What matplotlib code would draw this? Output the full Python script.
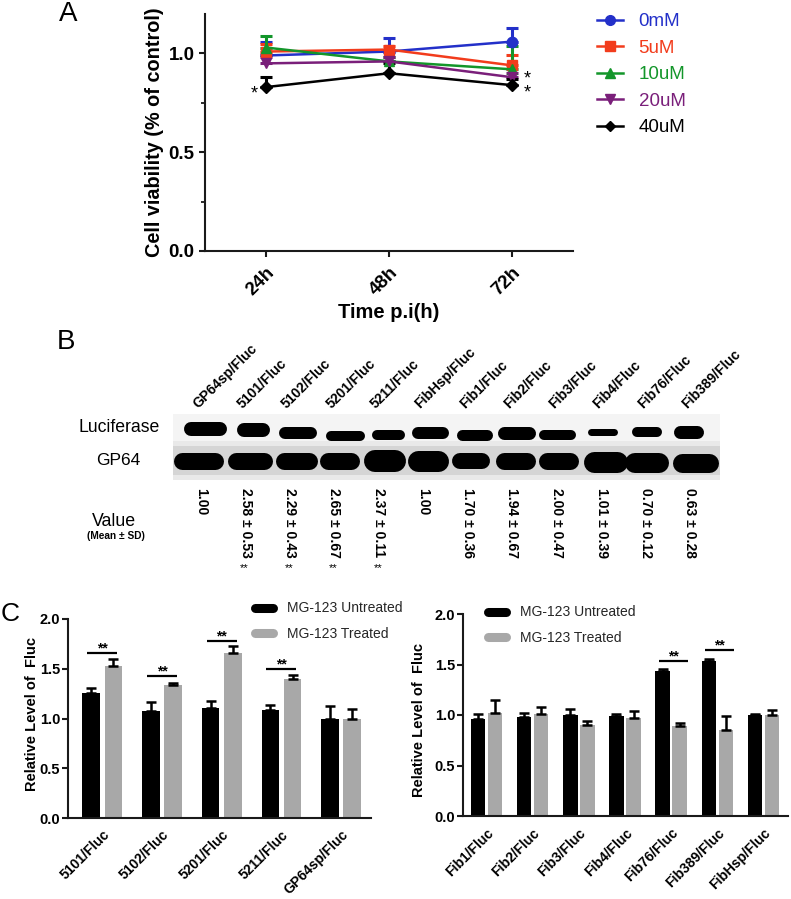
import numpy as np
import matplotlib
matplotlib.use('Agg')
import matplotlib.pyplot as plt
from matplotlib.lines import Line2D
from matplotlib.patches import Rectangle

plt.rcParams['font.family'] = ['Liberation Sans', 'DejaVu Sans']

# ---------------- data: panel A ----------------
time_labels = ['24h', '48h', '72h']
conc_labels = ['0mM', '5uM', '10uM', '20uM', '40uM']
viab_0mM = [0.99, 1.01, 1.06]
viab_5uM = [1.01, 1.02, 0.94]
viab_10uM = [1.03, 0.96, 0.92]
viab_20uM = [0.95, 0.96, 0.88]
viab_40uM = [0.83, 0.90, 0.84]
sd_0mM = [0.07, 0.07, 0.07]
sd_5uM = [0.04, 0.02, 0.05]
sd_10uM = [0.06, 0.02, 0.12]
sd_20uM = [0.03, 0.02, 0.02]
sd_40uM = [0.05, 0.05, 0.03]

# ---------------- data: panel B ----------------
blot_lanes = ['GP64sp/Fluc', '5101/Fluc', '5102/Fluc', '5201/Fluc', '5211/Fluc',
              'FibHsp/Fluc', 'Fib1/Fluc', 'Fib2/Fluc', 'Fib3/Fluc', 'Fib4/Fluc',
              'Fib76/Fluc', 'Fib389/Fluc']
value_mean = [1.00, 2.58, 2.29, 2.65, 2.37, 1.00, 1.70, 1.94, 2.00, 1.01, 0.70, 0.63]
value_sd = [None, 0.53, 0.43, 0.67, 0.11, None, 0.36, 0.67, 0.47, 0.39, 0.12, 0.28]
value_sig = ['', '**', '**', '**', '**', '', '', '', '', '', '', '']

# ---------------- data: panel C ----------------
c1_constructs = ['5101/Fluc', '5102/Fluc', '5201/Fluc', '5211/Fluc', 'GP64sp/Fluc']
c1_untreated = [1.26, 1.08, 1.11, 1.09, 1.00]
c1_untreated_sd = [0.05, 0.09, 0.07, 0.05, 0.13]
c1_treated = [1.53, 1.34, 1.66, 1.40, 1.00]
c1_treated_sd = [0.07, 0.02, 0.07, 0.04, 0.10]
c1_sig_level = [1.66, 1.43, 1.78, 1.50, None]

c2_constructs = ['Fib1/Fluc', 'Fib2/Fluc', 'Fib3/Fluc', 'Fib4/Fluc', 'Fib76/Fluc',
                 'Fib389/Fluc', 'FibHsp/Fluc']
c2_untreated = [0.96, 0.98, 1.00, 0.99, 1.44, 1.53, 1.00]
c2_untreated_sd = [0.05, 0.04, 0.06, 0.02, 0.02, 0.02, 0.01]
c2_treated = [1.02, 1.01, 0.90, 0.97, 0.89, 0.85, 1.00]
c2_treated_sd = [0.13, 0.07, 0.04, 0.07, 0.03, 0.14, 0.05]
c2_sig_level = [None, None, None, None, 1.53, 1.64, None]

legend_labels_c = ['MG-123 Untreated', 'MG-123 Treated']

# ---------------- styles ----------------
conc_colors = ['#2330c9', '#f23c1c', '#13962a', '#7a1f7a', '#000000']
conc_markers = ['o', 's', '^', 'v', 'D']
conc_msize = [7.5, 7, 7.5, 7.5, 6]
GREY = '#a8a8a8'
SPINE = '#1a1a1a'

# blot band look (width px, thickness px, x shift px, y centre px)
luc_band = [(43, 14, 0, 428.7), (33, 14, 3.5, 430), (38, 12, 4, 433), (39, 10, 7, 436),
            (33, 10, 5, 435), (37, 12, 2.5, 433.5), (36, 11, 2, 435), (38, 13, -0.5, 433.3),
            (37, 10, -4, 435), (30, 7, -3.5, 432.5), (30, 10, -3, 432), (30, 13, -6.5, 432)]
gp_band = [(50, 17, -7, 461), (45, 17, 0.5, 461), (42, 17, 2, 461), (40, 17, 0.5, 461),
           (42, 22, 2, 461), (41, 21, 0.5, 461), (38, 16, -1, 461), (40, 17, -1.5, 461),
           (40, 17, -3, 461), (44, 21, -0.5, 462), (44, 20, -3, 463), (46, 19, 1, 463)]

W, H = 791, 899
fig = plt.figure(figsize=(W / 100, H / 100), dpi=100)


def px_axes(l, t, r, b):
    return fig.add_axes([l / W, 1 - b / H, (r - l) / W, (b - t) / H])


def ftext(x, y, s, **kw):
    return fig.text(x / W, 1 - y / H, s, **kw)


def style_axes(ax, fs):
    for s in ['top', 'right']:
        ax.spines[s].set_visible(False)
    for s in ['left', 'bottom']:
        ax.spines[s].set_linewidth(1.5)
        ax.spines[s].set_color(SPINE)
    ax.tick_params(axis='both', which='major', direction='out', length=4.5, width=1.5,
                   color=SPINE, labelsize=fs)
    for lab in ax.get_yticklabels() + ax.get_xticklabels():
        lab.set_fontweight('bold')


# ================= Panel A =================
axA = px_axes(205, 14, 573, 251)
xA = np.arange(len(time_labels))
series = [viab_0mM, viab_5uM, viab_10uM, viab_20uM, viab_40uM]
sds = [sd_0mM, sd_5uM, sd_10uM, sd_20uM, sd_40uM]
handles = []
for vals, sd, col, mk, ms, lab in zip(series, sds, conc_colors, conc_markers, conc_msize, conc_labels):
    axA.errorbar(xA, vals, yerr=[np.zeros(len(sd)), sd], color=col, marker=mk, ms=ms,
                 lw=1.8, elinewidth=2.2, capsize=4, capthick=2.2, zorder=3)
    handles.append(Line2D([0], [0], color=col, marker=mk, ms=ms - 0.5, lw=1.8))
axA.set_xlim(-0.5, 2.5)
axA.set_ylim(0, 1.2)
axA.set_yticks([0, 0.5, 1.0])
axA.set_yticklabels(['0.0', '0.5', '1.0'])
axA.set_yticks([0.25, 0.75], minor=True)
axA.set_xticks(xA)
axA.set_xticklabels(time_labels, rotation=45, ha='right', rotation_mode='anchor')
style_axes(axA, 13.5)
axA.tick_params(axis='y', which='minor', direction='out', length=3, width=1.3, color=SPINE)
axA.tick_params(axis='y', which='major', pad=3)
axA.tick_params(axis='x', pad=5)
# significance stars
axA.text(-0.1, 0.77, '*', fontsize=13, ha='center', va='baseline')
axA.text(2.13, 0.775, '*\n*', fontsize=13, ha='center', va='baseline', linespacing=0.78)

legA = fig.legend(handles, conc_labels, loc='upper left', bbox_to_anchor=(597 / W, 1 - 13 / H),
                  frameon=False, fontsize=13.5, handlelength=1.4, handletextpad=0.82,
                  labelspacing=0.5, borderpad=0, borderaxespad=0)
for t, c in zip(legA.get_texts(), conc_colors):
    t.set_color(c)

ftext(154, 132, 'Cell viability (% of control)', rotation=90, ha='center', va='center',
      fontsize=14.3, fontweight='bold')
ftext(389, 313, 'Time p.i(h)', ha='center', va='center', fontsize=14.5, fontweight='bold')
ftext(68, 14, 'A', ha='center', va='center', fontsize=20)

# ================= Panel B =================
LANE_PX = 44.5
L0 = 205
axB = px_axes(173, 340, 720, 580)
x_left, x_right = (173 - L0) / LANE_PX, (720 - L0) / LANE_PX
axB.set_xlim(x_left, x_right)
axB.set_ylim(580, 340)
axB.axis('off')
nl = len(blot_lanes)
axB.add_patch(Rectangle((x_left, 414), x_right - x_left, 29, color='#f4f4f4', lw=0, zorder=0))
axB.add_patch(Rectangle((x_left, 441), x_right - x_left, 39, color='#e9e9e9', lw=0, zorder=0))
axB.add_patch(Rectangle((x_left, 446), x_right - x_left, 29, color='#d5d5d5', lw=0, zorder=0))
for i in range(nl):
    for (w, t, dx, yc) in (luc_band[i], gp_band[i]):
        half = (w - t) / 2 / LANE_PX
        xc = i + dx / LANE_PX
        axB.plot([xc - half, xc + half], [yc, yc], color='black', lw=t * 0.72,
                 solid_capstyle='round', zorder=2)
for i, lab in enumerate(blot_lanes):
    axB.text(i - 5 / LANE_PX, 411, lab, rotation=45, ha='left', va='bottom',
             rotation_mode='anchor', fontsize=10, fontweight='bold', clip_on=False)
for i, (m, sd, sg) in enumerate(zip(value_mean, value_sd, value_sig)):
    s = f'{m:.2f}' if sd is None else f'{m:.2f} ± {sd:.2f}'
    axB.text(i - 4 / LANE_PX, 488, s, rotation=-90, ha='left', va='center',
             rotation_mode='anchor', fontsize=10, fontweight='bold', clip_on=False)
    if sg:
        axB.text(i - 5 / LANE_PX, 568, sg, ha='center', va='center', fontsize=8,
                 clip_on=False)

ftext(78, 428, 'Luciferase', ha='left', va='center', fontsize=12.7)
ftext(118, 461, 'GP64', ha='center', va='center', fontsize=12.5)
ftext(114, 522, 'Value', ha='center', va='center', fontsize=12.8)
ftext(116, 536, '(Mean ± SD)', ha='center', va='center', fontsize=7.3, fontweight='bold')
ftext(66, 342, 'B', ha='center', va='center', fontsize=20)


# ================= Panel C =================
def bar_panel(ax, names, unt, unt_sd, trt, trt_sd, sig, bw, off, sig_span, xlim):
    x = np.arange(len(names))
    ax.bar(x - off, unt, width=bw, color='black', zorder=2)
    ax.bar(x + off, trt, width=bw, color=GREY, zorder=2)
    ax.errorbar(x - off, unt, yerr=[np.zeros(len(x)), unt_sd], fmt='none', ecolor='black',
                elinewidth=1.8, capsize=3.3, capthick=1.8, zorder=3)
    ax.errorbar(x + off, trt, yerr=[np.zeros(len(x)), trt_sd], fmt='none', ecolor='black',
                elinewidth=1.8, capsize=3.3, capthick=1.8, zorder=3)
    for xi, lv in zip(x, sig):
        if lv is None:
            continue
        ax.plot([xi + sig_span[0], xi + sig_span[1]], [lv, lv], color='black', lw=1.6,
                solid_capstyle='butt')
        ax.text(xi + (sig_span[0] + sig_span[1]) / 2, lv + 0.005, '**', ha='center',
                va='baseline', fontsize=10, fontweight='bold')
    ax.set_xlim(*xlim)
    ax.set_ylim(0, 2.0)
    ax.set_yticks([0, 0.5, 1.0, 1.5, 2.0])
    ax.set_yticklabels(['0.0', '0.5', '1.0', '1.5', '2.0'])
    ax.set_xticks(x)
    ax.set_xticklabels(names, rotation=45, ha='right', rotation_mode='anchor')
    style_axes(ax, 10.5)
    ax.tick_params(axis='y', length=4, pad=1.5)
    ax.tick_params(axis='x', length=0, pad=7, labelsize=10)
    for lab in ax.get_xticklabels():
        lab.set_fontweight('bold')


axC1 = px_axes(68, 619, 371, 818)
bar_panel(axC1, c1_constructs, c1_untreated, c1_untreated_sd, c1_treated, c1_treated_sd,
          c1_sig_level, 0.294, 0.186, (-0.25, 0.25), (-0.574, 4.5))
axC2 = px_axes(463, 614, 788, 816)
bar_panel(axC2, c2_constructs, c2_untreated, c2_untreated_sd, c2_treated, c2_treated_sd,
          c2_sig_level, 0.314, 0.185, (-0.27, 0.37), (-0.51, 6.53))

hC = [Line2D([0], [0], color='black', lw=6.5, solid_capstyle='round'),
      Line2D([0], [0], color=GREY, lw=6.5, solid_capstyle='round')]
for (lx, ty) in [(254.5, 601.5), (487.5, 605.5)]:
    lg = fig.legend(hC, legend_labels_c, loc='upper left', bbox_to_anchor=(lx / W, 1 - ty / H),
                    frameon=False, fontsize=10, handlelength=1.3, handletextpad=1.04,
                    labelspacing=0.8, borderpad=0, borderaxespad=0)
    for t in lg.get_texts():
        t.set_color('#262626')

ftext(32, 714, 'Relative Level of  Fluc', rotation=90, ha='center', va='center',
      fontsize=10.5, fontweight='bold')
ftext(419, 720, 'Relative Level of  Fluc', rotation=90, ha='center', va='center',
      fontsize=10.5, fontweight='bold')
ftext(10, 614, 'C', ha='center', va='center', fontsize=19)

fig.savefig('out.png', dpi=100)
